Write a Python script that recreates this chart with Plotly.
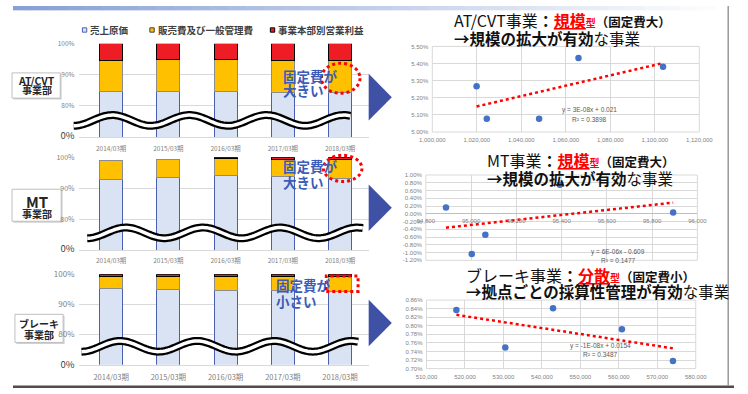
import plotly.graph_objects as go
import numpy as np

W, H = 748, 394
def fx(p): return p / W
def fy(p): return 1 - p / H

# ---------------- data ----------------
years = ['2014/03期', '2015/03期', '2016/03期', '2017/03期', '2018/03期']
series_names = ['売上原価', '販売費及び一般管理費', '事業本部別営業利益']

atcvt_cogs = [84.6, 84.6, 84.6, 84.3, 84.3]
atcvt_sga = [9.9, 10.4, 10.4, 10.2, 10.2]
atcvt_profit = [5.5, 5.0, 5.0, 5.5, 5.5]

mt_cogs = [92.9, 93.5, 94.1, 93.9, 93.2]
mt_sga = [6.0, 5.9, 5.5, 5.4, 6.0]
mt_profit = [None, None, 0.4, 0.7, 0.8]

brake_cogs = [95.3, 94.9, 94.6, 94.6, 94.3]
brake_sga = [3.9, 4.3, 4.6, 4.6, 4.9]
brake_profit = [0.8, 0.8, 0.8, 0.8, 0.8]

left_ytick_vals = [70, 80, 90, 100]
left_ytick_text = ['0%', '80%', '90%', '100%']

atcvt_sales = [1019900, 1024500, 1048000, 1065700, 1103700]
atcvt_margin = [5.268, 5.078, 5.078, 5.432, 5.381]
mt_sales = [94889, 95003, 95063, 95392, 95893]
mt_margin = [0.16, -1.04, -0.54, 0.75, 0.03]
brake_sales = [517770, 530480, 542900, 560800, 574080]
brake_margin = [0.837, 0.749, 0.841, 0.792, 0.718]

atcvt_xticks = [1000000, 1020000, 1040000, 1060000, 1080000, 1100000, 1120000]
atcvt_yticks = [5.00, 5.10, 5.20, 5.30, 5.40, 5.50]
mt_xticks = [94800, 95000, 95200, 95400, 95600, 95800, 96000]
mt_yticks = [-1.20, -1.00, -0.80, -0.60, -0.40, -0.20, 0.00, 0.20, 0.40, 0.60, 0.80, 1.00]
brake_xticks = [510000, 520000, 530000, 540000, 550000, 560000, 570000, 580000]
brake_yticks = [0.70, 0.72, 0.74, 0.76, 0.78, 0.80, 0.82, 0.84, 0.86]

atcvt_eq = ['y = 3E-08x + 0.021', 'R² = 0.3898']
mt_eq = ['y = 6E-06x - 0.609', 'R² = 0.1477']
brake_eq = ['y = -1E-08x + 0.0154', 'R² = 0.3487']

division_labels = [['AT/CVT', '事業部'], ['MT', '事業部'], ['ブレーキ', '事業部']]
note_labels = [['固定費が', '大きい'], ['固定費が', '大きい'], ['固定費が', '小さい']]

# ---------------- styles ----------------
FONT = 'Noto Sans CJK JP'
bar_fill = ['#dae3f3', '#ffc000', '#ee1c24']
bar_line = ['#4a5fb0', '#8c8c8c', '#000000']
GRID = '#d9d9d9'
TICKC = '#7f7f7f'
BLUE_TXT = '#3b5cb8'

fig = go.Figure()
layout = dict(width=W, height=H, margin=dict(l=0, r=0, t=0, b=0),
              paper_bgcolor='white', plot_bgcolor='white', showlegend=False,
              barmode='stack', font=dict(family=FONT))
shapes = []
annotations = []

def axn(k):
    return '' if k == 1 else str(k)

# ---------------- left stacked bars ----------------
left_specs = [
    dict(vals=[atcvt_cogs, atcvt_sga, atcvt_profit], top=39, bot=135, xf=6.4, yf=6.5, zf=9.5, stand=5),
    dict(vals=[mt_cogs, mt_sga, mt_profit], top=156, bot=251.7, xf=6.4, yf=7, zf=9.5, stand=4),
    dict(vals=[brake_cogs, brake_sga, brake_profit], top=276.7, bot=370, xf=7.5, yf=8, zf=9.5, stand=5),
]
for k, sp in enumerate(left_specs, start=1):
    a = axn(k)
    for i, v in enumerate(sp['vals']):
        fig.add_trace(go.Bar(x=years, y=v, name=series_names[i], width=0.4,
                             marker=dict(color=bar_fill[i], line=dict(color=bar_line[i], width=1)),
                             xaxis='x' + a, yaxis='y' + a, hoverinfo='skip'))
    ttext = [f"<span style='font-size:{sp['zf']}px;color:#404040'>{left_ytick_text[0]}</span>"] + left_ytick_text[1:]
    layout['xaxis' + a] = dict(domain=[fx(68), fx(369)], range=[-0.57, 4.5], anchor='y' + a,
                               showgrid=False, showline=True, linecolor=GRID, ticks='',
                               tickfont=dict(size=sp['xf'], color=TICKC, family=FONT),
                               ticklabelstandoff=sp['stand'], fixedrange=True)
    layout['yaxis' + a] = dict(domain=[fy(sp['bot']), fy(sp['top'])], range=[70, 100], anchor='x' + a,
                               tickvals=left_ytick_vals, ticktext=ttext, gridcolor=GRID, zeroline=False,
                               tickfont=dict(size=sp['yf'], color=TICKC, family=FONT),
                               ticklabelstandoff=3, fixedrange=True)

# legend (manual)
leg_x = [72, 142, 267]
for i, nm in enumerate(series_names):
    x0 = leg_x[i]
    shapes.append(dict(type='rect', xref='paper', yref='paper', x0=fx(x0), x1=fx(x0 + 4.5),
                       y0=fy(27), y1=fy(22.5), fillcolor=bar_fill[i],
                       line=dict(color=bar_line[i] if i != 1 else '#404040', width=1)))
    annotations.append(dict(text='<b>' + nm + '</b>', x=fx(x0 + 6), y=fy(24.8), xref='paper', yref='paper',
                            xanchor='left', yanchor='middle', showarrow=False,
                            font=dict(size=9.5, color='#404040', family=FONT)))

# wave break lines
def wave_path(x0, x1, yc, amp=5.5, period=80):
    xs = np.linspace(x0, x1, 160)
    ys = yc + amp * np.cos(2 * np.pi * (xs - x0) / period)
    return 'M ' + ' L '.join(f'{fx(x):.5f},{fy(y):.5f}' for x, y in zip(xs, ys))

for (x0, x1, yc) in [(63, 350, 118), (77, 363, 234), (71, 358, 351)]:
    p = wave_path(x0, x1, yc)
    shapes.append(dict(type='path', path=p, xref='paper', yref='paper', line=dict(color='black', width=8)))
    shapes.append(dict(type='path', path=p, xref='paper', yref='paper', line=dict(color='white', width=3.5)))

# red dotted highlights
shapes.append(dict(type='circle', xref='paper', yref='paper', x0=fx(320), x1=fx(360), y0=fy(90), y1=fy(59),
                   line=dict(color='#ff0000', width=3, dash='dot')))
shapes.append(dict(type='circle', xref='paper', yref='paper', x0=fx(322), x1=fx(362), y0=fy(181), y1=fy(154),
                   line=dict(color='#ff0000', width=3, dash='dot')))
shapes.append(dict(type='rect', xref='paper', yref='paper', x0=fx(325), x1=fx(358), y0=fy(294.5), y1=fy(278.5),
                   line=dict(color='#ff0000', width=3, dash='dot')))

# notes
note_pos = [(278, 72, 87), (278, 165, 182), (271, 288, 304)]
for (x, y1, y2), lines in zip(note_pos, note_labels):
    for yy, t in zip((y1, y2), lines):
        annotations.append(dict(text='<b>' + t + '</b>', x=fx(x), y=fy(yy), xref='paper', yref='paper',
                                xanchor='left', yanchor='middle', showarrow=False,
                                font=dict(size=13.5, color=BLUE_TXT, family=FONT)))

# division label boxes
box_pos = [(-1, 49, 69, 95, 77, 86.5, 10.5), (-1, 50, 189, 222, 202, 214.5, 15), (2, 52, 318, 347, 327, 339, 10)]
for (x0, x1, y0, y1, t1y, t2y, fs1), lab in zip(box_pos, division_labels):
    shapes.append(dict(type='rect', xref='paper', yref='paper', x0=fx(x0 + 1.5), x1=fx(x1 + 1.5),
                       y0=fy(y1 + 1.5), y1=fy(y0 + 1.5), fillcolor='#d0d0d0', line=dict(width=0), layer='below'))
    shapes.append(dict(type='rect', xref='paper', yref='paper', x0=fx(x0), x1=fx(x1), y0=fy(y1), y1=fy(y0),
                       fillcolor='white', line=dict(color='#bfbfbf', width=1), layer='below'))
    cx = (max(x0, 0) + x1) / 2
    annotations.append(dict(text='<b>' + lab[0] + '</b>', x=fx(cx), y=fy(t1y), xref='paper', yref='paper',
                            xanchor='center', yanchor='middle', showarrow=False,
                            font=dict(size=fs1, color='#262626', family=FONT)))
    annotations.append(dict(text='<b>' + lab[1] + '</b>', x=fx(cx), y=fy(t2y), xref='paper', yref='paper',
                            xanchor='center', yanchor='middle', showarrow=False,
                            font=dict(size=10, color='#262626', family=FONT)))

# arrows (triangles)
for (t, b) in [(70, 118), (184, 232), (303, 351)]:
    m = (t + b) / 2
    shapes.append(dict(type='path', xref='paper', yref='paper',
                       path=f'M {fx(369)},{fy(t)} L {fx(393)},{fy(m)} L {fx(369)},{fy(b)} Z',
                       fillcolor='#3f51a5', line=dict(width=0)))

# ---------------- right scatters ----------------
def fmt_x(v):
    return f'{v:,}'

scat_specs = [
    dict(x=atcvt_sales, y=atcvt_margin, xt=atcvt_xticks, yt=atcvt_yticks, dom=(435, 712, 41.7, 130),
         eq=atcvt_eq, eqpos=(598, 107, 117), free=None),
    dict(x=mt_sales, y=mt_margin, xt=mt_xticks, yt=mt_yticks, dom=(428.3, 710, 174.3, 262.3),
         eq=mt_eq, eqpos=(628, 254, 262), free=213.3),
    dict(x=brake_sales, y=brake_margin, xt=brake_xticks, yt=brake_yticks, dom=(429, 708.3, 303.3, 374),
         eq=brake_eq, eqpos=(610, 351, 359), free=None),
]
for j, sp in enumerate(scat_specs):
    k = 4 + j
    a = str(k)
    xs = np.array(sp['x'], dtype=float)
    ys = np.array(sp['y'], dtype=float)
    slope, icpt = np.polyfit(xs, ys, 1)
    tx = np.array([xs.min(), xs.max()])
    fig.add_trace(go.Scatter(x=tx, y=slope * tx + icpt, mode='lines',
                             line=dict(color='#ff0000', width=2.5, dash='dot'),
                             xaxis='x' + a, yaxis='y' + a, hoverinfo='skip'))
    fig.add_trace(go.Scatter(x=sp['x'], y=sp['y'], mode='markers',
                             marker=dict(color='#4472c4', size=6.5),
                             xaxis='x' + a, yaxis='y' + a))
    x0, x1, ytop, ybot = sp['dom']
    xa = dict(domain=[fx(x0), fx(x1)], range=[sp['xt'][0], sp['xt'][-1]], tickvals=sp['xt'],
              ticktext=[fmt_x(v) for v in sp['xt']], gridcolor=GRID, zeroline=False, ticks='',
              tickfont=dict(size=6, color=TICKC, family='Liberation Sans'), ticklabelstandoff=3,
              fixedrange=True)
    if sp['free'] is not None:
        xa.update(anchor='free', position=fy(sp['free']))
    else:
        xa.update(anchor='y' + a)
    ya = dict(domain=[fy(ybot), fy(ytop)], range=[sp['yt'][0], sp['yt'][-1]], tickvals=sp['yt'],
              ticktext=[f'{v:.2f}%' for v in sp['yt']], gridcolor=GRID, anchor='x' + a,
              zeroline=sp['free'] is not None, zerolinecolor='#bfbfbf', zerolinewidth=1, ticks='',
              tickfont=dict(size=6, color=TICKC, family='Liberation Sans'), ticklabelstandoff=3,
              fixedrange=True)
    layout['xaxis' + a] = xa
    layout['yaxis' + a] = ya
    shapes.append(dict(type='rect', xref='x' + a + ' domain', yref='y' + a + ' domain',
                       x0=0, x1=1, y0=0, y1=1, line=dict(color=GRID, width=1), layer='below'))
    ex, ey1, ey2 = sp['eqpos']
    for yy, t in zip((ey1, ey2), sp['eq']):
        annotations.append(dict(text=t, x=fx(ex), y=fy(yy), xref='paper', yref='paper',
                                xanchor='center', yanchor='middle', showarrow=False,
                                font=dict(size=6.5, color='#595959', family='Liberation Sans')))

# titles
RED = '#ff0000'
def title1(head, kind, fixed):
    return (f"{head}<b>：</b><span style='color:{RED}'><b><u>{kind}</u></b></span>"
            f"<span style='color:{RED};font-size:10px'><b>型</b></span>"
            f"<span style='font-size:12.5px'><b>（{fixed}）</b></span>")

titles = [
    (455, 14, 33, title1('AT/CVT事業', '規模', '固定費大'), '<b>→規模の拡大が有効</b>な事業'),
    (490, 159, 177, title1('MT事業', '規模', '固定費大'), '<b>→規模の拡大が有効</b>な事業'),
    (468, 277, 293.5, title1('ブレーキ事業', '分散', '固定費小'), '<b>→拠点ごとの採算性管理が有効</b>な事業'),
]
for x, y1, y2, t1, t2 in titles:
    annotations.append(dict(text=t1, x=fx(x), y=fy(y1), xref='paper', yref='paper', xanchor='left',
                            yanchor='middle', showarrow=False, font=dict(size=16, color='#111111', family=FONT)))
    annotations.append(dict(text=t2, x=fx(x), y=fy(y2), xref='paper', yref='paper', xanchor='left',
                            yanchor='middle', showarrow=False, font=dict(size=15.5, color='#111111', family=FONT)))

# frame decorations: top gradient bar, bottom line, right line
n = 40
for i in range(n):
    t = i / (n - 1)
    r = int(135 + (255 - 135) * t)
    g = int(160 + (255 - 160) * t)
    b = int(214 + (255 - 214) * t)
    shapes.append(dict(type='rect', xref='paper', yref='paper', x0=fx(i * 748 / n), x1=fx((i + 1) * 748 / n + 0.5),
                       y0=fy(4.5), y1=fy(0), fillcolor=f'rgb({r},{g},{b})', line=dict(width=0)))
shapes.append(dict(type='rect', xref='paper', yref='paper', x0=0, x1=fx(748), y0=0, y1=fy(391.5),
                   fillcolor='#4d4d4d', line=dict(width=0)))
shapes.append(dict(type='line', xref='paper', yref='paper', x0=fx(742), x1=fx(742), y0=fy(0), y1=fy(392),
                   line=dict(color='#9a9a9a', width=1.5)))

layout['shapes'] = shapes
layout['annotations'] = annotations
fig.update_layout(**layout)
fig.write_html('out.html', config={'displayModeBar': False})
